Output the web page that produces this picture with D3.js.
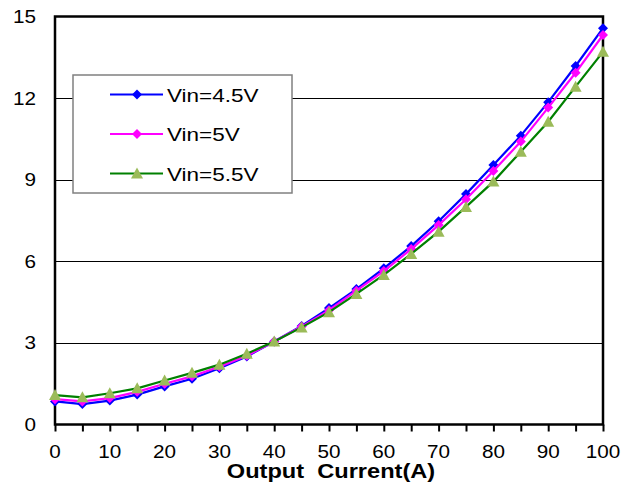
<!DOCTYPE html>
<html>
<head>
<meta charset="utf-8">
<script src="https://cdn.jsdelivr.net/npm/d3@7"></script>
<style>
  html, body { margin: 0; padding: 0; background: #fff; }
  svg { display: block; font-family: "Liberation Sans", Arial, sans-serif; }
</style>
</head>
<body>
<svg id="chart" width="635" height="487"></svg>
<script>
// ---- data ----
const current = [0,5,10,15,20,25,30,35,40,45,50,55,60,65,70,75,80,85,90,95,100];
const vin45 = [0.85,0.75,0.88,1.10,1.40,1.68,2.07,2.50,3.05,3.62,4.28,4.98,5.74,6.56,7.47,8.47,9.54,10.62,11.85,13.18,14.57];
const vin50 = [0.93,0.85,0.97,1.20,1.50,1.77,2.12,2.53,3.05,3.60,4.20,4.92,5.64,6.45,7.33,8.28,9.32,10.40,11.65,12.93,14.32];
const vin55 = [1.08,1.00,1.15,1.33,1.62,1.90,2.20,2.60,3.05,3.57,4.13,4.80,5.50,6.27,7.09,8.00,8.93,10.03,11.13,12.42,13.70];
const seriesNames = ["Vin=4.5V","Vin=5V","Vin=5.5V"];
const yTicks = [0,3,6,9,12,15];
const xMinorTicks = [0,5,10,15,20,25,30,35,40,45,50,55,60,65,70,75,80,85,90,95,100];
const xLabelTicks = [0,10,20,30,40,50,60,70,80,90,100];
const xTitle = "Output  Current(A)";

// ---- layout ----
const svg = d3.select("#chart");
const L = 55, R = 603, T = 16.5, B = 424.5;
const x = d3.scaleLinear().domain([0,100]).range([L,R]);
const y = d3.scaleLinear().domain([0,15]).range([B,T]);

const series = [
  {name: seriesNames[0], values: vin45, line: "#0000ff", fill: "#0000ff", marker: "diamond"},
  {name: seriesNames[1], values: vin50, line: "#ff00ff", fill: "#ff00ff", marker: "diamond"},
  {name: seriesNames[2], values: vin55, line: "#008000", fill: "#9bbb59", marker: "triangle"}
];

// gridlines
svg.append("g")
  .selectAll("line")
  .data(yTicks.filter(d => d > 0 && d < 15))
  .join("line")
  .attr("x1", L).attr("x2", R)
  .attr("y1", d => Math.round(y(d)) + 0.5).attr("y2", d => Math.round(y(d)) + 0.5)
  .attr("stroke", "#000").attr("stroke-width", 1);

// x axis ticks (minor + labels)
const xAxis = d3.axisBottom(x).tickValues(xMinorTicks).tickSize(7).tickFormat("");
const gx = svg.append("g").attr("transform", `translate(0,${B})`).call(xAxis);
gx.select(".domain").remove();
gx.selectAll(".tick line").attr("stroke", "#000").attr("stroke-width", 2);

const sx = 1.15;
svg.append("g").selectAll("text")
  .data(xLabelTicks)
  .join("text")
  .attr("transform", d => `translate(${x(d)},458) scale(${sx},1)`)
  .attr("text-anchor", "middle")
  .attr("font-size", 18)
  .attr("fill", "#000")
  .text(d => d);

// y labels
svg.append("g").selectAll("text")
  .data(yTicks)
  .join("text")
  .attr("transform", d => `translate(36,${y(d) + 6.5}) scale(${sx},1)`)
  .attr("text-anchor", "end")
  .attr("font-size", 18)
  .attr("fill", "#000")
  .text(d => d);

// frame
svg.append("rect")
  .attr("x", L).attr("y", T).attr("width", R - L).attr("height", B - T)
  .attr("fill", "none").attr("stroke", "#000").attr("stroke-width", 2.5);

// x title
svg.append("text")
  .attr("transform", `translate(331,478) scale(1.18,1)`)
  .attr("text-anchor", "middle")
  .attr("font-size", 20)
  .attr("font-weight", "bold")
  .attr("xml:space", "preserve")
  .style("white-space", "pre")
  .attr("fill", "#000")
  .text(xTitle);

// markers
function drawMarker(g, type, cx, cy, fill) {
  if (type === "diamond") {
    g.append("path")
      .attr("d", `M${cx},${cy-5}L${cx+5},${cy}L${cx},${cy+5}L${cx-5},${cy}Z`)
      .attr("fill", fill);
  } else {
    g.append("path")
      .attr("d", `M${cx},${cy-6}L${cx+6},${cy+5}L${cx-6},${cy+5}Z`)
      .attr("fill", fill);
  }
}

const line = d3.line().x((d, i) => x(current[i])).y(d => y(d));
const plot = svg.append("g");
series.forEach(s => {
  plot.append("path")
    .datum(s.values)
    .attr("d", line)
    .attr("fill", "none")
    .attr("stroke", s.line)
    .attr("stroke-width", 2.2);
  const mg = plot.append("g");
  s.values.forEach((v, i) => drawMarker(mg, s.marker, x(current[i]), y(v), s.fill));
});

// legend
const lg = svg.append("g");
lg.append("rect")
  .attr("x", 73).attr("y", 75).attr("width", 219).attr("height", 118)
  .attr("fill", "#fff").attr("stroke", "#808080").attr("stroke-width", 1.5);
const rowY = [94.5, 134, 173.5];
series.forEach((s, i) => {
  lg.append("line")
    .attr("x1", 110).attr("x2", 163)
    .attr("y1", rowY[i]).attr("y2", rowY[i])
    .attr("stroke", s.line).attr("stroke-width", 2.2);
  drawMarker(lg, s.marker, 137, rowY[i], s.fill);
  lg.append("text")
    .attr("transform", `translate(167,${rowY[i] + 7}) scale(1.25,1)`)
    .attr("font-size", 18)
    .attr("fill", "#000")
    .text(s.name);
});
</script>
</body>
</html>
